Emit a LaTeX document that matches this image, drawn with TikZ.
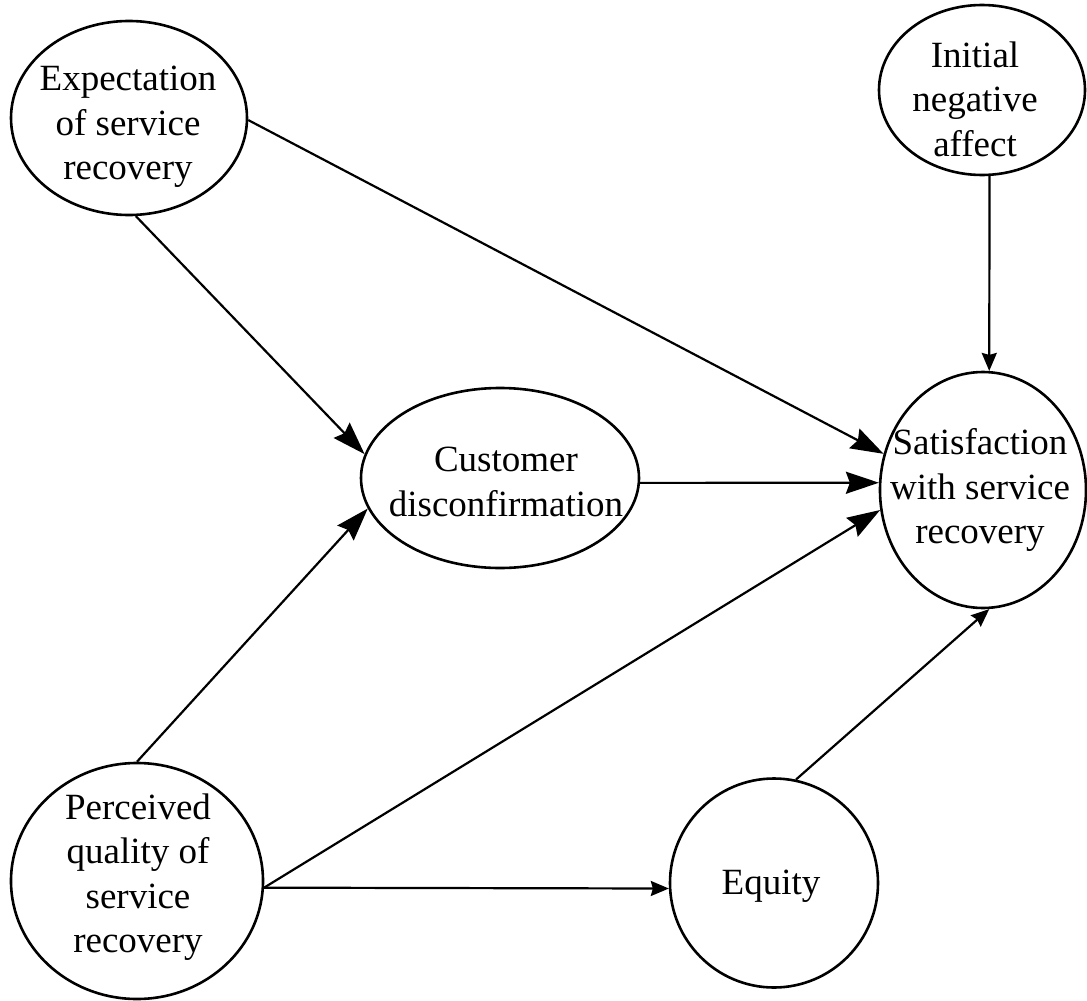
\documentclass[tikz,border=0pt]{standalone}
\usepackage{fontspec}
\setmainfont{Liberation Serif}
\usetikzlibrary{shapes.geometric,arrows.meta}
\tikzset{
  ell/.style={draw, ellipse, line width=2.6pt, inner sep=0pt},
  lbl/.style={align=center, inner sep=0pt, font=\fontsize{37}{44.5}\selectfont},
  conn/.style={line width=2.2pt},
  big/.style={conn, -{Stealth[length=33pt,width=22pt,inset=4pt]}},
  small/.style={conn, -{Stealth[length=18pt,width=15pt,inset=2pt]}},
}
\begin{document}
\begin{tikzpicture}[x=1pt,y=-1pt]
\useasboundingbox (0,0) rectangle (1087,1001);
% ellipses
\node[ell, minimum width=236pt, minimum height=194pt] (exp) at (129,118) {};
\node[ell, minimum width=206pt, minimum height=170pt] (init) at (982,90) {};
\node[ell, minimum width=278pt, minimum height=180pt] (disc) at (500,478) {};
\node[ell, minimum width=206pt, minimum height=236pt] (sat) at (983,490) {};
\node[ell, minimum width=252pt, minimum height=236pt] (perc) at (137,881) {};
\node[ell, minimum width=208pt, minimum height=209pt] (eq) at (774,883) {};
% labels
\node[lbl] (texp) at (128,127) {Expectation\\of service\\recovery};
\node[lbl] (tinit) at (975,99) {Initial\\negative\\affect};
\node[lbl] (tdisc) at (506,482) {Customer\\disconfirmation};
\node[lbl] (tsat) at (980,490) {Satisfaction\\with service\\recovery};
\node[lbl] (tperc) at (138,877) {Perceived\\quality of\\service\\recovery};
\node[lbl] (teq) at (771,886) {Equity};
% connectors
\draw[big] (exp.-86.5) -- (disc.170);
\draw[big] (exp.-1) -- (sat.160.6);
\draw[small] (init.-85) -- (sat.87);
\draw[big] (disc.-2) -- (sat.176.2);
\draw[big] (perc.90) -- (disc.193.7);
\draw[big] (perc.-3) -- (sat.191.8);
\draw[small] (perc.-3) -- (eq.183);
\draw[small] (eq.78.8) -- (sat.273.4);
\end{tikzpicture}
\end{document}
